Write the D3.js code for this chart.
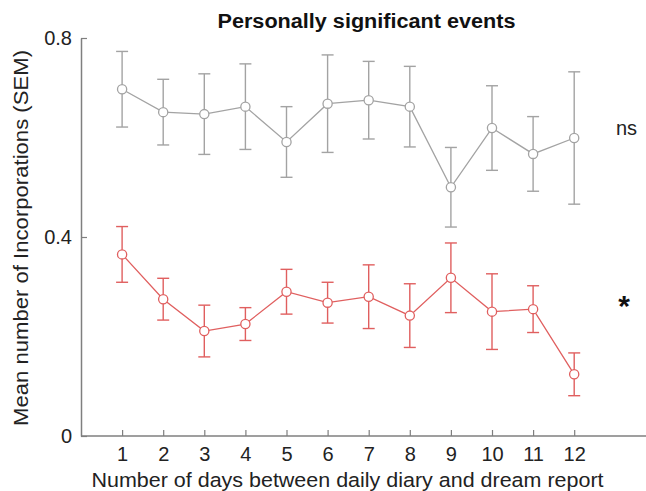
<!DOCTYPE html>
<html>
<head>
<meta charset="utf-8">
<script src="https://cdn.jsdelivr.net/npm/d3@7"></script>
<style>
  body { margin: 0; background: #fff; }
  svg { display: block; font-family: "Liberation Sans", Arial, sans-serif; }
</style>
</head>
<body>
<svg id="chart"></svg>
<script>
// days between diary and dream report
const days = [1, 2, 3, 4, 5, 6, 7, 8, 9, 10, 11, 12];

// non significant series (grey)
const nsMean = [0.697, 0.651, 0.647, 0.662, 0.591, 0.668, 0.675, 0.662, 0.500, 0.619, 0.567, 0.599];
const nsSem  = [0.076, 0.066, 0.081, 0.086, 0.071, 0.098, 0.078, 0.081, 0.080, 0.085, 0.075, 0.133];

// significant series (red)
const sigMean = [0.365, 0.275, 0.211, 0.225, 0.290, 0.268, 0.280, 0.242, 0.318, 0.250, 0.255, 0.124];
const sigSem  = [0.056, 0.042, 0.052, 0.033, 0.045, 0.041, 0.064, 0.064, 0.070, 0.076, 0.047, 0.043];

const yTicks = [0, 0.4, 0.8];

const W = 646, H = 491;
const margin = {left: 81, top: 38, bottom: 55};
const svg = d3.select("#chart").attr("width", W).attr("height", H);

const x = d3.scaleLinear().domain([0, 14]).range([margin.left, margin.left + 14 * 41.1]);
const y = d3.scaleLinear().domain([0, 0.8]).range([H - margin.bottom, margin.top]);

const axisCol = "#7f7f7f";

// y axis
const yAxis = svg.append("g")
    .attr("transform", `translate(${margin.left},0)`)
    .call(d3.axisLeft(y).tickValues(yTicks).tickSizeInner(-6).tickSizeOuter(0)
        .tickPadding(9).tickFormat(d => d === 0 ? "0" : d3.format(".1f")(d)));

// x axis
const xAxis = svg.append("g")
    .attr("transform", `translate(0,${y(0)})`)
    .call(d3.axisBottom(x).tickValues(days).tickSizeInner(-6).tickSizeOuter(0)
        .tickPadding(11).tickFormat(d3.format("d")));

[yAxis, xAxis].forEach(g => {
  g.select(".domain").attr("stroke", axisCol).attr("stroke-width", 1.5);
  g.selectAll(".tick line").attr("stroke", axisCol).attr("stroke-width", 1.2);
  g.selectAll(".tick text").attr("fill", "#222").style("font-size", "20px");
});
xAxis.select(".domain").attr("d", `M${x(0)},0H${W + 10}`);

// error bars + lines + markers
function drawSeries(mean, sem, col) {
  const g = svg.append("g");
  const cap = 6;
  days.forEach((d, i) => {
    const cx = x(d), top = y(mean[i] + sem[i]), bot = y(mean[i] - sem[i]);
    g.append("line").attr("x1", cx).attr("x2", cx).attr("y1", top).attr("y2", bot)
      .attr("stroke", col).attr("stroke-width", 1.4);
    [top, bot].forEach(yy => g.append("line")
      .attr("x1", cx - cap).attr("x2", cx + cap).attr("y1", yy).attr("y2", yy)
      .attr("stroke", col).attr("stroke-width", 1.4));
  });
  const line = d3.line().x((d, i) => x(days[i])).y(d => y(d));
  g.append("path").datum(mean).attr("d", line)
    .attr("fill", "none").attr("stroke", col).attr("stroke-width", 1.3);
  g.selectAll("circle").data(mean).join("circle")
    .attr("cx", (d, i) => x(days[i])).attr("cy", d => y(d)).attr("r", 4.6)
    .attr("fill", "#fff").attr("stroke", col).attr("stroke-width", 1.3);
}
drawSeries(nsMean, nsSem, "#a3a3a3");
drawSeries(sigMean, sigSem, "#e05f5f");

// labels
svg.append("text").attr("x", 366.5).attr("y", 28).attr("text-anchor", "middle")
  .style("font-size", "20px").style("font-weight", "bold").attr("fill", "#111")
  .attr("textLength", 298).attr("lengthAdjust", "spacingAndGlyphs")
  .text("Personally significant events");

svg.append("text").attr("x", 347.5).attr("y", 487).attr("text-anchor", "middle")
  .style("font-size", "20.5px").attr("fill", "#222")
  .attr("textLength", 512).attr("lengthAdjust", "spacingAndGlyphs")
  .text("Number of days between daily diary and dream report");

svg.append("text").attr("transform", `translate(28,238) rotate(-90)`)
  .attr("text-anchor", "middle").style("font-size", "20.5px").attr("fill", "#222")
  .attr("textLength", 376).attr("lengthAdjust", "spacingAndGlyphs")
  .text("Mean number of Incorporations (SEM)");

svg.append("text").attr("x", 616).attr("y", 135)
  .style("font-size", "20px").attr("fill", "#222").text("ns");

svg.append("text").attr("x", 624).attr("y", 316).attr("text-anchor", "middle")
  .style("font-size", "30px").style("font-weight", "bold").attr("fill", "#111").text("*");
</script>
</body>
</html>
